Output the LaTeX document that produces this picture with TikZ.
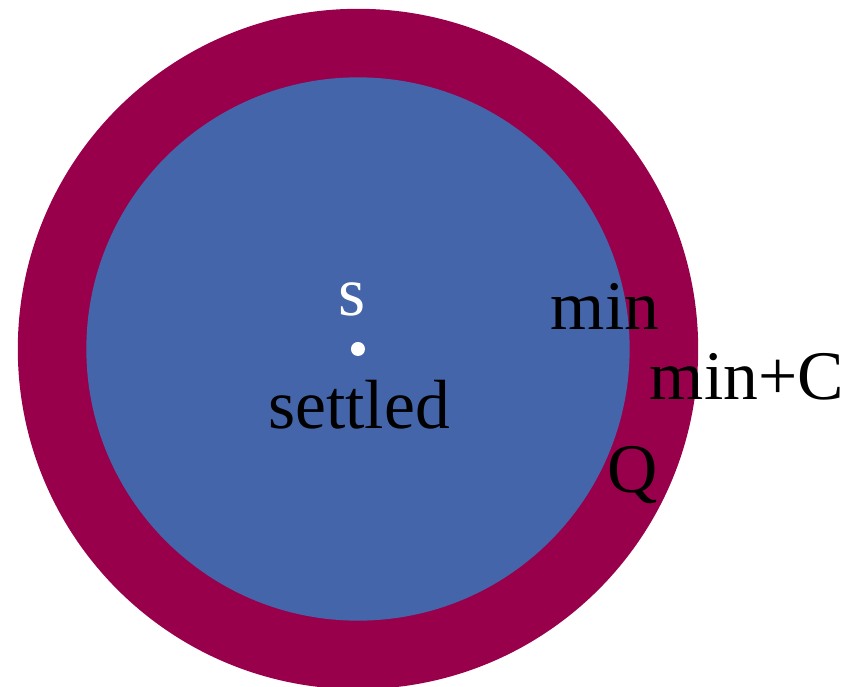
\documentclass[tikz,border=0pt]{standalone}
\usepackage{fontspec}
\setmainfont{Liberation Serif}
\usetikzlibrary{positioning}

\definecolor{ringpurple}{RGB}{153,0,76}
\definecolor{settledblue}{RGB}{69,101,170}

\begin{document}
\begin{tikzpicture}[x=0.01cm, y=0.01cm,
    lbl/.style={inner sep=0pt, anchor=base, font=\fontsize{19.8pt}{22pt}\selectfont}]
            \useasboundingbox (0,0) rectangle (859,687);
            % Centre of both discs
            \coordinate (c) at (358, 338);
            
            \node[circle, fill=ringpurple, inner sep=0pt, minimum size=6.8cm] (outer) at (c) {};
            \node[circle, fill=settledblue, inner sep=0pt, minimum size=5.43cm] (inner) at (c) {};
            \node[circle, fill=white, inner sep=0pt, minimum size=0.14cm] (src) at (c) {};
            
            \node[lbl, text=white] (s) at (352, 371) {s};
            \node[lbl] (settled) at (359, 258) {settled};
            \node[lbl] (min) at (605, 357) {min};
            \node[lbl] (minC) at (747, 287) {min+C};
            \node[lbl] (Q) at (633, 194) {Q};
        \end{tikzpicture}
\end{document}
